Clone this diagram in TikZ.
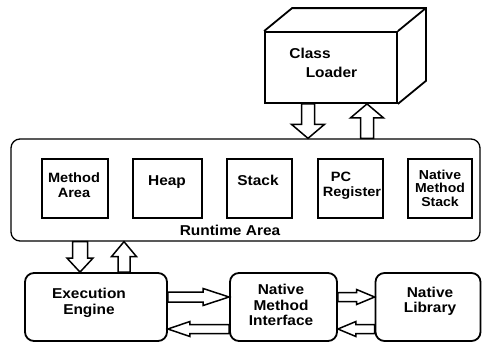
\documentclass[tikz,border=0pt]{standalone}
\usepackage{fontspec}
\setmainfont{Liberation Sans}[FakeStretch=1.08]
\usetikzlibrary{calc}
\tikzset{
  lbl/.style={font=\fontsize{14.3}{15.5}\selectfont\bfseries, inner sep=0pt, align=center},
  slbl/.style={lbl, font=\fontsize{13.5}{14.5}\selectfont\bfseries},
  ibox/.style={draw, line width=2.2pt, minimum height=59pt, inner sep=0pt},
  bbox/.style={draw, line width=1.8pt, rounded corners=9pt, minimum height=68pt, inner sep=0pt},
  fat/.style={draw, line width=1.5pt, fill=white, line join=miter},
}
\newcommand\fatarrow[5]{%
  \path ($(#2)!#5!(#1)$) coordinate (fab);
  \draw[fat] ($(#1)!#3!90:(#2)$) -- ($(fab)!#3!90:(#2)$) -- ($(fab)!#4!90:(#2)$) -- (#2)
    -- ($(fab)!#4!-90:(#2)$) -- ($(fab)!#3!-90:(#2)$) -- ($(#1)!#3!-90:(#2)$) -- cycle;}
\begin{document}
\begin{tikzpicture}[x=1pt,y=-1pt]
\useasboundingbox (0,0) rectangle (482,343);
% class loader cube
\node[draw, line width=1.8pt, minimum width=132pt, minimum height=71pt, inner sep=0pt] (cl) at (331,67.5) {};
\draw[line width=1.8pt, line join=miter] (cl.north west) -- ++(28,-23) -- ($(cl.north east)+(28,-23)$) -- ($(cl.south east)+(28,-23)$) -- (cl.south east);
\draw[line width=1.8pt] (cl.north east) -- ++(28,-23);
\node[lbl] (clt1) at (310,53) {Class};
\node[lbl] (clt2) at (331.5,72) {Loader};
% runtime area
\node[draw, line width=1.3pt, rounded corners=9pt, minimum width=469pt, minimum height=102pt, inner sep=0pt] (rt) at (245.5,190) {};
\node[lbl] (rtl) at (230,230) {Runtime Area};
\node[ibox, minimum width=66pt] (ma) at (75,188.5) {};
\node[slbl] (mat) at (74,185) {Method\\Area};
\node[ibox, minimum width=69pt] (hp) at (167.5,188.5) {};
\node[lbl] (hpt) at (167,182) {Heap};
\node[ibox, minimum width=65pt] (st) at (259.5,188.5) {};
\node[lbl] (stt) at (258,180) {Stack};
\node[ibox, minimum width=65pt] (pc) at (350.5,188.5) {};
\node[slbl] (pct1) at (341,177) {PC};
\node[slbl] (pct2) at (352,193) {Register};
\node[ibox, minimum width=64pt] (nms) at (440,188.5) {};
\node[slbl, font=\fontsize{13}{13.5}\selectfont\bfseries] (nmst) at (440,188) {Native\\Method\\Stack};
% bottom boxes
\node[bbox, minimum width=142pt] (ee) at (96,307) {};
\node[lbl] (eet) at (89,303) {Execution\\Engine};
\node[bbox, minimum width=107pt] (nmi) at (283.5,307) {};
\node[lbl] (nmit) at (281,305) {Native\\Method\\Interface};
\node[bbox, minimum width=105pt] (nl) at (428,307) {};
\node[lbl] (nlt) at (430,301.5) {Native\\Library};
% vertical arrows
\coordinate (a1s) at ($(cl.south)+(-23,0)$);
\coordinate (a1e) at (a1s |- rt.north);
\fatarrow{a1s}{a1e}{6.5pt}{16.5pt}{14pt}
\coordinate (a2e) at ($(cl.south)+(36,0)$);
\coordinate (a2s) at (a2e |- rt.north);
\fatarrow{a2s}{a2e}{6.5pt}{16.5pt}{14pt}
\coordinate (a3e) at ($(ee.north)+(-16,0)$);
\coordinate (a3s) at (a3e |- rt.south);
\fatarrow{a3s}{a3e}{7.5pt}{13pt}{14pt}
\coordinate (a4s) at ($(ee.north)+(28,0)$);
\coordinate (a4e) at (a4s |- rt.south);
\fatarrow{a4s}{a4e}{6pt}{12.5pt}{15pt}
% horizontal arrows
\coordinate (h1s) at ($(ee.east)+(0,-10)$);
\coordinate (h1e) at ($(nmi.west)+(0,-10)$);
\fatarrow{h1s}{h1e}{5pt}{8.5pt}{26pt}
\coordinate (h2s) at ($(nmi.west)+(0,22)$);
\coordinate (h2e) at ($(ee.east)+(0,22)$);
\fatarrow{h2s}{h2e}{4.5pt}{7.5pt}{22pt}
\coordinate (h3s) at ($(nmi.east)+(0,-10)$);
\coordinate (h3e) at ($(nl.west)+(0,-10)$);
\fatarrow{h3s}{h3e}{4.5pt}{7.5pt}{18pt}
\coordinate (h4s) at ($(nl.west)+(0,22)$);
\coordinate (h4e) at ($(nmi.east)+(0,22)$);
\fatarrow{h4s}{h4e}{4.5pt}{7.5pt}{18pt}
\end{tikzpicture}
\end{document}
